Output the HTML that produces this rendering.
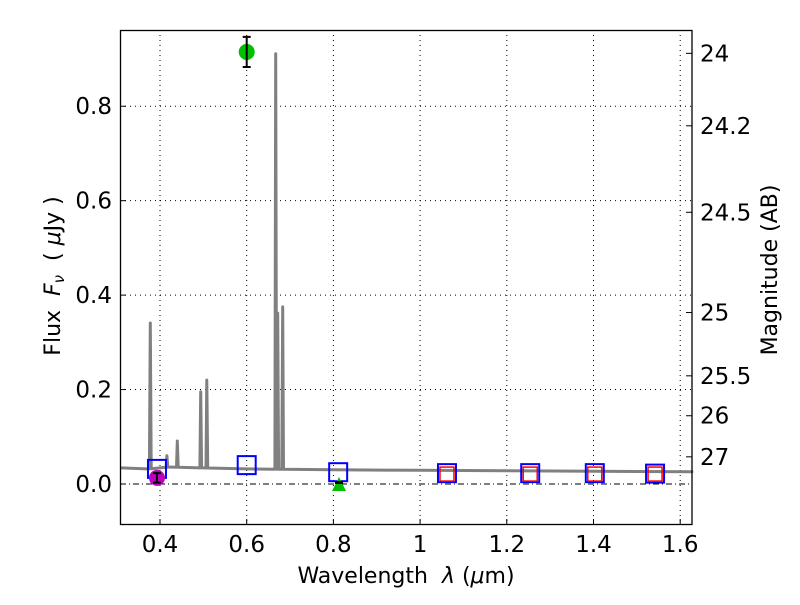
<!DOCTYPE html>
<html><head><meta charset="utf-8"><style>
body{margin:0;background:#fff}
svg text{font-family:"DejaVu Sans","Liberation Sans",sans-serif;fill:#000;white-space:pre}
</style></head><body>
<svg id="chart" width="800" height="600" xmlns="http://www.w3.org/2000/svg">
<g id="grid"></g>
<g id="spec"></g>
<g id="marks"></g>
<rect x="120.5" y="30.5" width="571.5" height="494" fill="none" stroke="#000" stroke-width="1.3"/>
<g id="axes"></g>
<text x="406" y="583" font-size="22" text-anchor="middle">Wavelength&#160;&#160;<tspan font-style="italic">λ</tspan> (<tspan font-style="italic">μ</tspan>m)</text>
<text transform="translate(60,276) rotate(-90)" font-size="22" text-anchor="middle">Flux&#160;&#160;<tspan font-style="italic">F<tspan font-size="15" dy="4">ν</tspan></tspan><tspan dy="-4">&#160;&#160;( </tspan><tspan font-style="italic">μ</tspan>Jy )</text>
<text transform="translate(777,270) rotate(-90)" font-size="22" text-anchor="middle">Magnitude (AB)</text>
</svg>
<script>
const xTicks=[0.4,0.6,0.8,1.0,1.2,1.4,1.6];
const xTickLabels=["0.4","0.6","0.8","1","1.2","1.4","1.6"];
const yTicks=[0.0,0.2,0.4,0.6,0.8];
const yTickLabels=["0.0","0.2","0.4","0.6","0.8"];
const magTicks=[24,24.2,24.5,25,25.5,26,27];
const magLabels=["24","24.2","24.5","25","25.5","26","27"];
const contWave=[0.31,0.37,0.40,0.42,0.5,0.6,0.8,1.0,1.2,1.4,1.63];
const contFlux=[0.034,0.032,0.034,0.036,0.034,0.032,0.030,0.029,0.028,0.027,0.026];
const lineWave=[0.3776,0.416,0.44,0.494,0.508,0.667,0.6715,0.683];
const linePeak=[0.341,0.06,0.091,0.195,0.22,0.911,0.362,0.375];
const bandWave=[0.393,0.6,0.811,1.062,1.254,1.403,1.542];
const bandFlux=[0.032,0.040,0.025,0.023,0.023,0.023,0.022];
const modelWave=[1.062,1.254,1.403,1.542];
const modelFlux=[0.021,0.021,0.021,0.021];
const obsWave=[0.393,0.6];
const obsFlux=[0.013,0.915];
const obsErr=[0.01,0.032];
const obsColor=["#bf00bf","#00bf00"];
const limWave=[0.813];
const limFlux=[0.0];
const X=v=>160+(v-0.4)*433.5;
const Y=v=>484-v*472.2;
const NS="http://www.w3.org/2000/svg";
function mk(p,t,a){const e=document.createElementNS(NS,t);for(const k in a)e.setAttribute(k,a[k]);p.appendChild(e);return e;}
const grid=document.getElementById('grid'),axes=document.getElementById('axes');
xTicks.forEach((v,i)=>{
 const g=mk(grid,'line',{x1:X(v),x2:X(v),y1:30,y2:525,stroke:'#000','stroke-width':1,'stroke-dasharray':'1,4'});
 
 
 const t=mk(axes,'line',{x1:X(v),x2:X(v),y1:525,y2:519,stroke:'#000'});
 
 
 const l=mk(axes,'text',{x:X(v),y:552,'font-size':23,'text-anchor':'middle'});l.textContent=xTickLabels[i];
 
 
});
yTicks.forEach((v,i)=>{
 const g=mk(grid,'line',{x1:120,x2:692,y1:Y(v),y2:Y(v),stroke:'#000','stroke-width':1,'stroke-dasharray':v===0?'6,3,1,3':'1,4'});
 
 
 const t=mk(axes,'line',{x1:120,x2:126,y1:Y(v),y2:Y(v),stroke:'#000'});
 
 
 const l=mk(axes,'text',{x:112,y:Y(v)+8,'font-size':23,'text-anchor':'end'});l.textContent=yTickLabels[i];
 
 
});
magTicks.forEach((m,i)=>{
 const f=Math.pow(10,(23.9-m)/2.5);
 const t=mk(axes,'line',{x1:692,x2:686,y1:Y(f),y2:Y(f),stroke:'#000'});
 
 
 const l=mk(axes,'text',{x:700,y:Y(f)+8,'font-size':23});l.textContent=magLabels[i];
 
 
});
function cont(w){for(let i=0;i<contWave.length-1;i++){if(w<=contWave[i+1]){const t=(w-contWave[i])/(contWave[i+1]-contWave[i]);return contFlux[i]+t*(contFlux[i+1]-contFlux[i]);}}return contFlux[contFlux.length-1];}
let pts=[];
contWave.forEach(w=>pts.push([w,cont(w)]));
lineWave.forEach((w,i)=>{pts.push([w-0.002,cont(w)]);pts.push([w,linePeak[i]]);pts.push([w+0.002,cont(w)]);});
pts.sort((a,b)=>a[0]-b[0]);
const sp=mk(document.getElementById('spec'),'polyline',{points:pts.map(p=>X(p[0]).toFixed(1)+','+Y(p[1]).toFixed(1)).join(' '),fill:'none',stroke:'#808080','stroke-width':3,'stroke-linejoin':'round'});


const marks=document.getElementById('marks');
bandWave.forEach((w,i)=>{
 const r=mk(marks,'rect',{x:X(w)-9,y:Y(bandFlux[i])-9,width:18,height:18,fill:'none',stroke:'#0000ff','stroke-width':2});
 
 
});
modelWave.forEach((w,i)=>{
 const r=mk(marks,'rect',{x:X(w)-7,y:Y(modelFlux[i])-7,width:14,height:14,fill:'none',stroke:'#ff0000','stroke-width':1.5});
 
 
});
obsWave.forEach((w,i)=>{
 const c=mk(marks,'circle',{cx:X(w),cy:Y(obsFlux[i]),r:8,fill:obsColor[i]});
 
 
 const y1=Y(obsFlux[i]+obsErr[i]),y2=Y(obsFlux[i]-obsErr[i]);
 const e=mk(marks,'path',{d:`M${X(w)},${y1}V${y2}M${X(w)-4},${y1}h8M${X(w)-4},${y2}h8`,stroke:'#000','stroke-width':2,fill:'none'});
 
 
});
limWave.forEach((w,i)=>{
 const x=X(w),y=Y(limFlux[i]);
 const p=mk(marks,'path',{d:`M${x},${y-7}L${x+7},${y+7}L${x-7},${y+7}Z`,fill:'#00bf00'});
 
 
 const b=mk(marks,'rect',{x:x-4,y:y-3,width:8,height:3,fill:'#000'});
 
 
});
</script>
</body></html>
